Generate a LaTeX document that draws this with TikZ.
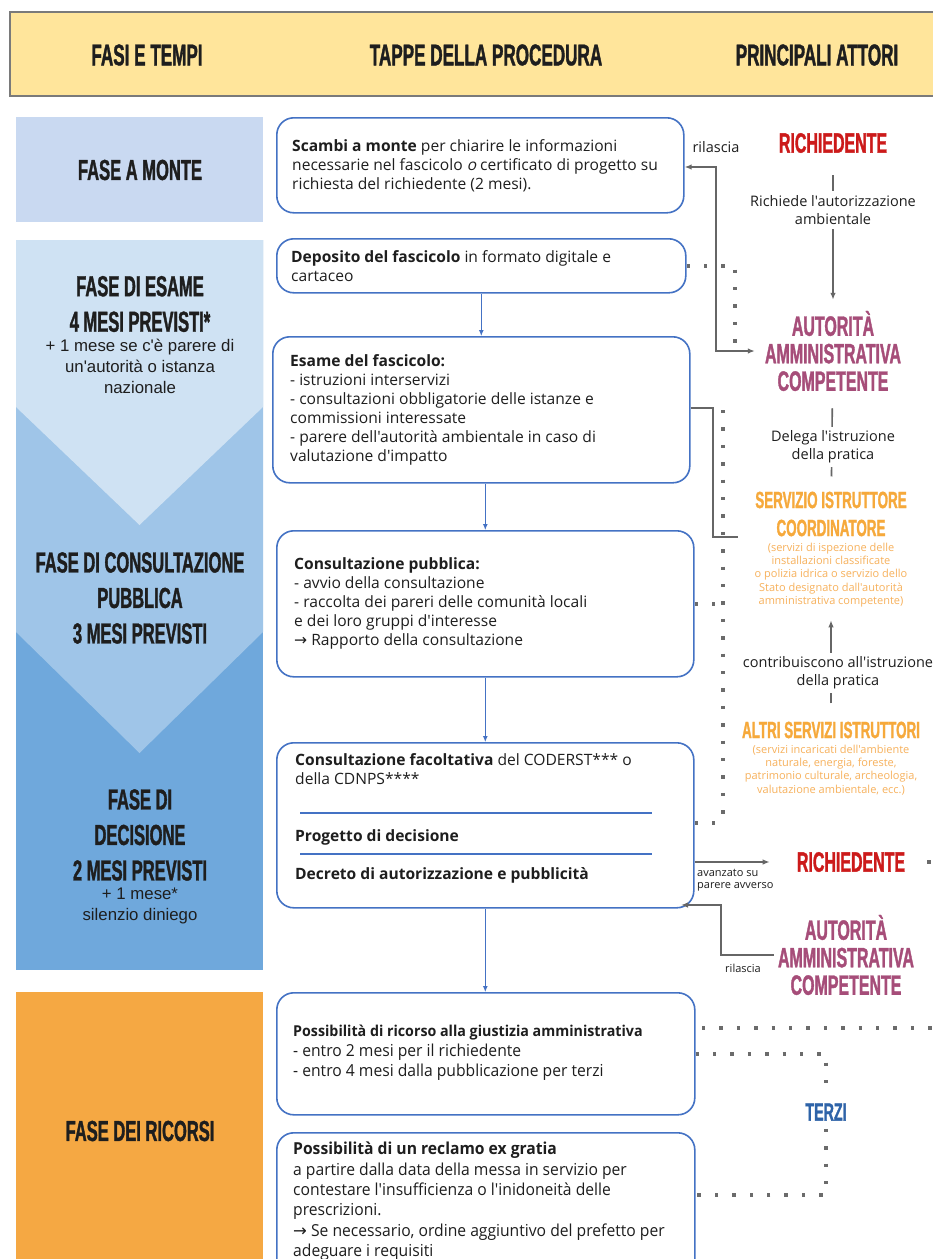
\documentclass[tikz,border=0pt]{standalone}
\usepackage{fontspec}
\setmainfont{Open Sans}[Ligatures=TeXOff]
\newfontfamily\slantfont{Open Sans}[FakeSlant=0.2]
\newfontfamily\hdfont{Liberation Sans}[FakeStretch=0.57, FakeBold=1.2]
\newfontfamily\arialfont{Liberation Sans}
\newfontfamily\condfont{Open Sans}[FakeStretch=0.95]
\newfontfamily\symfont{DejaVu Sans}
\usetikzlibrary{arrows.meta}

\definecolor{hdrfill}{HTML}{FFE59B}
\definecolor{hdrline}{HTML}{7A7A7A}
\definecolor{montefill}{HTML}{C9D9F1}
\definecolor{ltblue}{HTML}{CFE2F3}
\definecolor{mdblue}{HTML}{9FC5E8}
\definecolor{dkblue}{HTML}{6FA8DC}
\definecolor{ricfill}{HTML}{F5A843}
\definecolor{boxblue}{HTML}{4472C4}
\definecolor{reqred}{HTML}{CC1A1A}
\definecolor{autmag}{HTML}{A64D79}
\definecolor{srvor}{HTML}{F6A93B}
\definecolor{srvsmall}{HTML}{F7B15C}
\definecolor{terzblue}{HTML}{2E63A8}
\definecolor{linegray}{HTML}{666666}
\definecolor{dotgray}{HTML}{6B6B6B}
\definecolor{ink}{HTML}{1E1E1E}

\newcommand{\rarr}{{\symfont →}}

\tikzset{
  stepbox/.style={draw=boxblue, line width=1.6pt, rounded corners=17pt, fill=white,
    anchor=north west, inner sep=0pt},
  steptext/.style={font=\fontsize{15.6}{19}\selectfont, text=ink, align=left,
    inner sep=0pt, anchor=west},
  condtext/.style={font=\condfont\fontsize{16.5}{20.3}\selectfont, text=ink, align=left,
    inner sep=0pt, anchor=west},
  headtxt/.style={font=\hdfont\bfseries\fontsize{29}{35.5}\selectfont, text=ink,
    align=center, inner sep=0pt},
  colhead/.style={font=\hdfont\bfseries\fontsize{30}{34}\selectfont, text=ink,
    align=center, inner sep=0pt},
  notetxt/.style={font=\arialfont\fontsize{16.8}{21}\selectfont, text=ink,
    align=center, inner sep=0pt},
  actor/.style={font=\hdfont\bfseries\fontsize{28}{27.5}\selectfont, align=center,
    inner sep=0pt},
  actorsm/.style={font=\hdfont\bfseries\fontsize{23.5}{28}\selectfont, text=srvor,
    align=center, inner sep=0pt},
  orsmall/.style={font=\fontsize{11}{13.3}\selectfont, text=srvsmall, align=center,
    inner sep=0pt},
  lbl/.style={font=\fontsize{14.5}{18}\selectfont, text=ink, align=center,
    inner sep=0pt},
  lblsm/.style={font=\fontsize{11}{12.5}\selectfont, text=ink, align=left,
    inner sep=0pt},
  cover/.style={fill=white, inner ysep=4pt},
  flowarrow/.style={draw=boxblue, line width=1pt, -{Latex[length=6pt,width=5pt]}},
  gline/.style={draw=linegray, line width=1.6pt},
  garrow/.style={gline, -{Latex[length=7pt,width=5.5pt]}},
  dotline/.style={draw=dotgray, line width=3.4pt, dash pattern=on 3.4pt off 14pt},
  sepline/.style={draw=boxblue, line width=1.2pt},
}

\begin{document}
\begin{tikzpicture}[x=1pt, y=-1pt]
\useasboundingbox (0,0) rectangle (933,1259);
\clip (0,0) rectangle (933,1259);
\fill[white] (0,0) rectangle (933,1259);

% ---------- header band ----------
\filldraw[fill=hdrfill, draw=hdrline, line width=1.5pt] (10,12) rectangle (960,96);
\node[colhead] (h1) at (147,55) {FASI E TEMPI};
\node[colhead] (h2) at (486,55) {TAPPE DELLA PROCEDURA};
\node[colhead] (h3) at (817,55) {PRINCIPALI ATTORI};

% ---------- phase column ----------
\fill[montefill] (16,117) rectangle (263,222);
\fill[dkblue] (16,240) rectangle (263,970);
\fill[mdblue] (16,240) -- (263,240) -- (263,632) -- (139.5,753) -- (16,632) -- cycle;
\fill[ltblue] (16,240) -- (263,240) -- (263,407) -- (139.5,525) -- (16,407) -- cycle;
\fill[ricfill] (16,992) rectangle (263,1275);

\node[headtxt] (p1) at (140,170) {FASE A MONTE};
\node[headtxt] (p2) at (140,304) {FASE DI ESAME\\4 MESI PREVISTI*};
\node[notetxt] (p2n) at (140,366) {+ 1 mese se c'è parere di\\un'autorità o istanza\\nazionale};
\node[headtxt] (p3) at (140,598) {FASE DI CONSULTAZIONE\\PUBBLICA\\3 MESI PREVISTI};
\node[headtxt] (p4) at (140,835) {FASE DI\\DECISIONE\\2 MESI PREVISTI};
\node[notetxt] (p4n) at (140,906) {+ 1 mese*\\silenzio diniego};
\node[headtxt] (p5) at (140,1131) {FASE DEI RICORSI};

% ---------- procedure steps ----------
\node[stepbox, minimum width=407pt, minimum height=95pt] (b1) at (276,117) {};
\node[steptext] (t1) at ([xshift=16pt]b1.west)
  {\textbf{Scambi a monte} per chiarire le informazioni\\
   necessarie nel fascicolo {\slantfont o} certificato di progetto su\\
   richiesta del richiedente (2 mesi).};

\node[stepbox, minimum width=409pt, minimum height=54pt] (b2) at (276,238) {};
\node[steptext] (t2) at ([xshift=15pt]b2.west)
  {\textbf{Deposito del fascicolo} in formato digitale e\\cartaceo};

\node[stepbox, minimum width=417pt, minimum height=146pt] (b3) at (272,336) {};
\node[steptext] (t3) at ([xshift=18pt]b3.west)
  {\textbf{Esame del fascicolo:}\\
   - istruzioni interservizi\\
   - consultazioni obbligatorie delle istanze e\\
   commissioni interessate\\
   - parere dell'autorità ambientale in caso di\\
   valutazione d'impatto};

\node[stepbox, minimum width=417pt, minimum height=146pt] (b4) at (276,530) {};
\node[steptext] (t4) at ([xshift=18pt]b4.west)
  {\textbf{Consultazione pubblica:}\\
   - avvio della consultazione\\
   - raccolta dei pareri delle comunità locali\\
   e dei loro gruppi d'interesse\\
   \rarr{} Rapporto della consultazione};

\node[stepbox, minimum width=417pt, minimum height=165pt] (b5) at (276,742) {};
\node[steptext, anchor=base west] (t5a) at (295,784)
  {\textbf{Consultazione facoltativa} del CODERST*** o\\della CDNPS****};
\draw[sepline] (300,813) -- (652,813);
\node[steptext, anchor=base west] (t5b) at (295,841) {\textbf{Progetto di decisione}};
\draw[sepline] (300,854) -- (652,854);
\node[steptext, anchor=base west] (t5c) at (295,879) {\textbf{Decreto di autorizzazione e pubblicità}};

\node[stepbox, minimum width=418pt, minimum height=122pt] (b6) at (276,992) {};
\node[condtext] (t6) at ([xshift=17pt, yshift=1pt]b6.west)
  {{\fontsize{15}{20.5}\selectfont\textbf{Possibilità di ricorso alla giustizia amministrativa}}\\
   - entro 2 mesi per il richiedente\\
   - entro 4 mesi dalla pubblicazione per terzi};

\node[stepbox, minimum width=418pt, minimum height=160pt] (b7) at (276,1132) {};
\node[condtext, anchor=north west] (t7) at ([xshift=17pt, yshift=-10pt]b7.north west)
  {\textbf{Possibilità di un reclamo ex gratia}\\
   a partire dalla data della messa in servizio per\\
   contestare l'insufficienza o l'inidoneità delle\\
   prescrizioni.\\
   \rarr{} Se necessario, ordine aggiuntivo del prefetto per\\
   adeguare i requisiti};

% flow between steps
\draw[flowarrow] (b2.south) -- (b2.south |- b3.north);
\draw[flowarrow] (b4.north |- b3.south) -- (b4.north);
\draw[flowarrow] (b4.south) -- (b5.north);
\draw[flowarrow] (b5.south) -- (b5.south |- b6.north);

% ---------- actors ----------
\node[actor, text=reqred] (rq1) at (833,143) {RICHIEDENTE};
\node[actor, text=autmag] (a1) at (833,351) {AUTORITÀ\\AMMINISTRATIVA\\COMPETENTE};
\node[actorsm] (s1) at (831,514) {SERVIZIO ISTRUTTORE\\COORDINATORE};
\node[orsmall] (s1n) at (831,575) {(servizi di ispezione delle\\installazioni classificate\\o polizia idrica o servizio dello\\Stato designato dall'autorità\\amministrativa competente)};
\node[actorsm] (s2) at (831,730) {ALTRI SERVIZI ISTRUTTORI};
\node[orsmall] (s2n) at (831,770) {(servizi incaricati dell'ambiente\\naturale, energia, foreste,\\patrimonio culturale, archeologia,\\valutazione ambientale, ecc.)};
\node[actor, text=reqred] (rq2) at (851,862) {RICHIEDENTE};
\node[actor, text=autmag] (a2) at (846,955) {AUTORITÀ\\AMMINISTRATIVA\\COMPETENTE};
\node[actor, text=terzblue, font=\hdfont\bfseries\fontsize{25}{28}\selectfont] (tz) at (826,1112) {TERZI};

% links between actors
\draw[garrow, shorten <=22pt, shorten >=11pt] (rq1) -- (a1);
\node[lbl, cover] (l1) at (833,210) {Richiede l'autorizzazione\\ambientale};
\draw[gline, shorten <=17pt, shorten >=15pt] (a1) -- (s1);
\node[lbl, cover] (l2) at (833,447) {Delega l'istruzione\\della pratica};
\draw[garrow, shorten <=18pt, shorten >=13pt] (s2) -- (s1n);
\node[lbl, cover] (l3) at (838,673) {contribuiscono all'istruzione\\della pratica};

% delivery of the certificate / authorisation
\coordinate (r1) at (716,167);
\draw[gline, {Latex[length=7pt,width=5.5pt]}-{Latex[length=7pt,width=5.5pt]}]
  (b1.east |- r1) -- (r1) |- ([xshift=-10pt]a1.west);
\node[lbl] (l4) at (716,147) {rilascia};

\coordinate (e1) at (713,408);
\coordinate (e2) at (738,537);
\draw[gline] (b3.east |- e1) -- (e1) |- (e2);

\draw[garrow] (b5.east |- rq2) -- ([xshift=-27pt]rq2.west);
\node[lblsm, anchor=north west] (l5) at (697,869) {avanzato su\\parere avverso};

\coordinate (r2) at (721,905);
\coordinate (r2end) at (681,905);
\draw[garrow] ([xshift=-4pt]a2.west) -| (r2) -- (r2end);
\node[lblsm] (l6) at (743,968) {rilascia};

% dotted links
\coordinate (d1) at (735,345);
\draw[dotline] (b2.east) -| (d1);
\coordinate (v1) at (723,410);
\coordinate (v2) at (723,823);
\draw[dotline] (v1) -- (v2);
\draw[dotline] (b4.east) -- (b4.east -| v1);
\draw[dotline] (b5.east |- v2) -- (v2);
\draw[dotline] ([xshift=22pt]rq2.east) -- ++(40,0);

\coordinate (g6) at (694,1028);
\draw[dotline] ([xshift=8pt]g6) -- (960,1028);
\draw[dotline, shorten >=8pt] (b6.east) -| (tz.north);
\coordinate (g7) at (694,1195);
\draw[dotline, shorten <=8pt] (tz.south) |- (g7);
\end{tikzpicture}
\end{document}
